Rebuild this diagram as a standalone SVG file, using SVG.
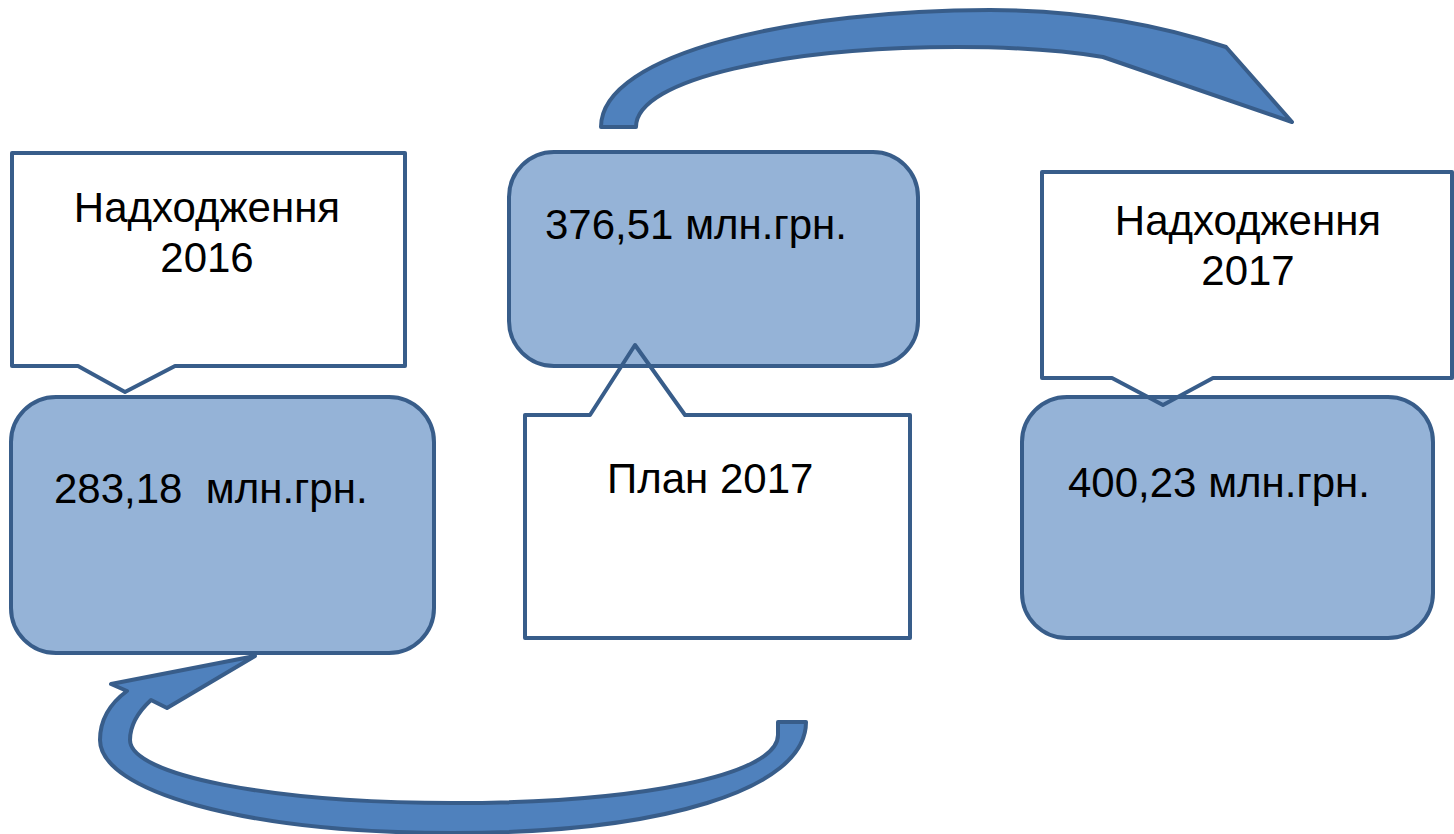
<svg xmlns="http://www.w3.org/2000/svg" width="1454" height="834" viewBox="0 0 1454 834">
<style>
.box{fill:#95B3D7;stroke:#385D8A;stroke-width:4}
.call{fill:#FFFFFF;stroke:#385D8A;stroke-width:4;stroke-linejoin:round}
.callf{fill:#FFFFFF;stroke:none}
.callo{fill:none;stroke:#385D8A;stroke-width:4;stroke-linejoin:round}
.arr{fill:#4F81BD;stroke:#385D8A;stroke-width:4;stroke-linejoin:round}
text{font-family:"Liberation Sans",Arial,sans-serif;font-size:42px;fill:#000000}
</style>
<rect width="1454" height="834" fill="#FFFFFF"/>
<g id="connectors">
<path class="arr" d="M601,127 C601,52 800,10 990,10 C1080,10 1160,25 1226,47 L1292,122 L1103,57 C1060,50 1010,47 957,47 C790,47 636,78 636,127 Z"/>
<path class="arr" d="M806,722 C806,790 660,833 453,833 C240,833 100,790 100,740 C100,718 112,702 127,691 L111,684 L255,656 L167,708 L151,700 C138,712 130,725 130,740 C130,775 270,803 453,803 C640,803 778,775 778,735 L778,722 Z"/>
</g>
<g id="callout-2016">
<path class="call" d="M12,153 L405,153 L405,366 L175,366 L125,392 L78,366 L12,366 Z"/>
<text x="207" y="222" text-anchor="middle">Надходження</text>
<text x="207" y="272" text-anchor="middle">2016</text>
</g>
<g id="box-2016">
<rect class="box" x="11" y="397" width="423" height="256" rx="45" ry="45"/>
<text x="54" y="503" style="white-space:pre" xml:space="preserve">283,18  млн.грн.</text>
</g>
<g id="callout-plan">
<path class="callf" d="M525,415 L590,415 L635,345 L685,415 L910,415 L910,638 L525,638 Z"/>
</g>
<g id="box-plan">
<rect class="box" x="509" y="152" width="409" height="214" rx="45" ry="45"/>
<text x="545" y="239">376,51 млн.грн.</text>
</g>
<g id="callout-plan-outline">
<path class="callo" d="M525,415 L590,415 L635,345 L685,415 L910,415 L910,638 L525,638 Z"/>
<text x="607" y="493">План 2017</text>
</g>
<g id="callout-2017">
<path class="callf" d="M1042,172 L1452,172 L1452,378 L1213,378 L1163,405 L1112,378 L1042,378 Z"/>
</g>
<g id="box-2017">
<rect class="box" x="1022" y="397" width="411" height="241" rx="45" ry="45"/>
<text x="1068" y="497">400,23 млн.грн.</text>
</g>
<g id="callout-2017-outline">
<path class="callo" d="M1042,172 L1452,172 L1452,378 L1213,378 L1163,405 L1112,378 L1042,378 Z"/>
<text x="1248" y="235" text-anchor="middle">Надходження</text>
<text x="1248" y="285" text-anchor="middle">2017</text>
</g>
</svg>
